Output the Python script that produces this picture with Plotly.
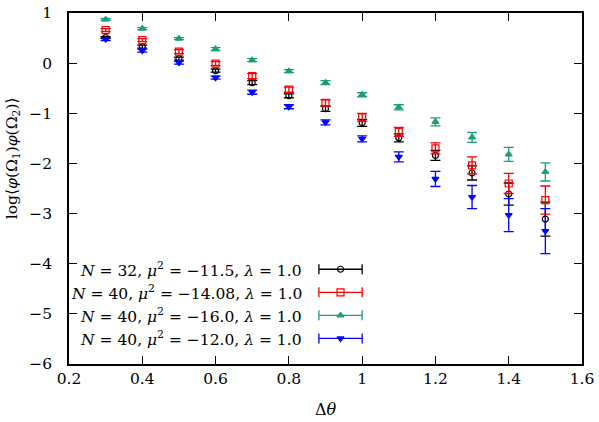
import plotly.graph_objects as go

# dados
dtheta = [0.3, 0.4, 0.5, 0.6, 0.7, 0.8, 0.9, 1.0, 1.1, 1.2, 1.3, 1.4, 1.5]

corr_n32_115 = [0.51, 0.33, 0.09, -0.15, -0.39, -0.65, -0.91, -1.19, -1.49, -1.84, -2.19, -2.61, -3.11]
err_n32_115 = [0.02, 0.03, 0.03, 0.03, 0.04, 0.04, 0.05, 0.07, 0.08, 0.10, 0.14, 0.22, 0.34]

corr_n40_1408 = [0.66, 0.46, 0.23, -0.01, -0.26, -0.53, -0.79, -1.08, -1.37, -1.70, -2.04, -2.40, -2.73]
err_n40_1408 = [0.03, 0.03, 0.04, 0.04, 0.05, 0.05, 0.06, 0.08, 0.09, 0.11, 0.17, 0.20, 0.28]

corr_n40_160 = [0.87, 0.69, 0.49, 0.28, 0.06, -0.16, -0.39, -0.63, -0.88, -1.17, -1.48, -1.82, -2.17]
err_n40_160 = [0.02, 0.02, 0.02, 0.03, 0.03, 0.03, 0.04, 0.04, 0.05, 0.08, 0.10, 0.14, 0.18]

corr_n40_120 = [0.48, 0.25, 0.01, -0.29, -0.58, -0.87, -1.18, -1.51, -1.87, -2.31, -2.67, -3.03, -3.35]
err_n40_120 = [0.03, 0.03, 0.03, 0.03, 0.04, 0.04, 0.05, 0.06, 0.10, 0.15, 0.23, 0.33, 0.45]

labels = [
    "<i>N</i> = 32, <i>μ</i><sup>2</sup> = −11.5, <i>λ</i> = 1.0",
    "<i>N</i> = 40, <i>μ</i><sup>2</sup> = −14.08, <i>λ</i> = 1.0",
    "<i>N</i> = 40, <i>μ</i><sup>2</sup> = −16.0, <i>λ</i> = 1.0",
    "<i>N</i> = 40, <i>μ</i><sup>2</sup> = −12.0, <i>λ</i> = 1.0",
]

xtick_vals = [0.2, 0.4, 0.6, 0.8, 1.0, 1.2, 1.4, 1.6]
xtick_text = ["0.2", "0.4", "0.6", "0.8", "1", "1.2", "1.4", "1.6"]
ytick_vals = [-6, -5, -4, -3, -2, -1, 0, 1]

series = [
    (corr_n32_115, err_n32_115, "black", "circle-open", 6),
    (corr_n40_1408, err_n40_1408, "#ff0000", "square-open", 7),
    (corr_n40_160, err_n40_160, "#1a9e77", "triangle-up", 6),
    (corr_n40_120, err_n40_120, "#0000ff", "triangle-down", 6),
]

fonte = "DejaVu Serif"

fig = go.Figure()

for y, e, cor, simbolo, tam in series:
    fig.add_trace(go.Scatter(
        x=dtheta, y=y, mode="markers",
        marker=dict(symbol=simbolo, size=tam, color=cor, line=dict(color=cor, width=1.2)),
        error_y=dict(type="data", array=e, color=cor, thickness=1.3, width=5),
        showlegend=False,
    ))

# legenda desenhada a mao (estilo gnuplot)
leg_y = [-4.11, -4.57, -5.03, -5.49]
for (y, e, cor, simbolo, tam), ly, txt in zip(series, leg_y, labels):
    fig.add_trace(go.Scatter(
        x=[0.941], y=[ly], mode="markers",
        marker=dict(symbol=simbolo, size=tam, color=cor, line=dict(color=cor, width=1.2)),
        error_x=dict(type="constant", value=0.059, color=cor, thickness=1.3, width=5),
        showlegend=False, hoverinfo="skip",
    ))
    fig.add_annotation(x=0.84, y=ly, xref="x", yref="y", text=txt, showarrow=False,
                       xanchor="right", yanchor="middle", font=dict(family=fonte, size=15.5, color="black"))

# titulos dos eixos
fig.add_annotation(x=-0.11, y=0.585, xref="paper", yref="paper", textangle=-90,
                   text="log⟨<i>φ</i>(Ω<sub>1</sub>)<i>φ</i>(Ω<sub>2</sub>)⟩", showarrow=False,
                   xanchor="center", yanchor="middle", font=dict(family=fonte, size=15.5, color="black"))
fig.add_annotation(x=0.5, y=-0.13, xref="paper", yref="paper", text="Δ<i>θ</i>", showarrow=False,
                   xanchor="center", yanchor="middle", font=dict(family=fonte, size=16, color="black"))

fig.update_xaxes(
    range=[0.2, 1.6], tickvals=xtick_vals, ticktext=xtick_text, automargin=False,
    ticks="inside", ticklen=8, tickwidth=1, tickcolor="black", mirror="ticks",
    showline=True, linecolor="black", linewidth=1.5, showgrid=False, zeroline=False,
    tickfont=dict(family=fonte, size=15.5, color="black"),
)
fig.update_yaxes(
    range=[-6, 1], tickvals=ytick_vals, automargin=False, ticklabelstandoff=12,
    ticks="inside", ticklen=8, tickwidth=1, tickcolor="black", mirror="ticks",
    showline=True, linecolor="black", linewidth=1.5, showgrid=False, zeroline=False,
    tickfont=dict(family=fonte, size=15.5, color="black"),
)

fig.update_layout(
    width=599, height=422,
    margin=dict(l=69, r=17, t=13, b=58),
    plot_bgcolor="white", paper_bgcolor="white",
    font=dict(family=fonte, color="black"),
)

fig.write_html("out.html", config={"displayModeBar": False},
               post_script="document.body.style.margin='0';")
